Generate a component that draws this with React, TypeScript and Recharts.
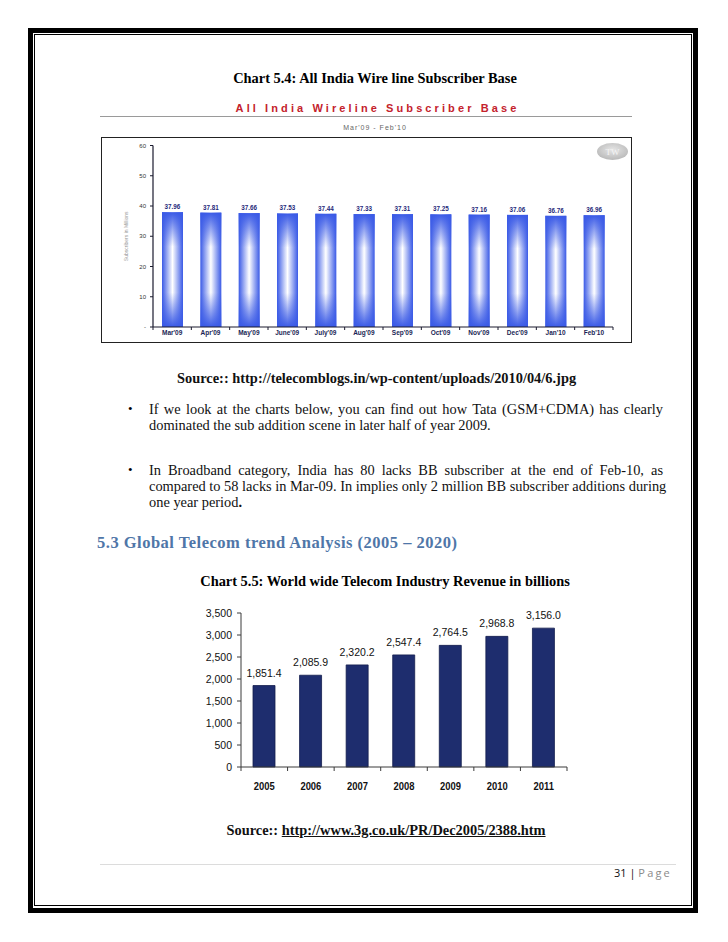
import React from "react";
import { Bar, BarChart, LabelList, XAxis, YAxis } from "recharts";

// Chart 5.4 data
const wirelineMonths = ["Mar'09", "Apr'09", "May'09", "June'09", "July'09", "Aug'09", "Sep'09", "Oct'09", "Nov'09", "Dec'09", "Jan'10", "Feb'10"];
const wirelineSubs = [37.96, 37.81, 37.66, 37.53, 37.44, 37.33, 37.31, 37.25, 37.16, 37.06, 36.76, 36.96];
const wirelineTicks = [0, 10, 20, 30, 40, 50, 60];

// Chart 5.5 data
const revenueYears = ["2005", "2006", "2007", "2008", "2009", "2010", "2011"];
const revenueValues = [1851.4, 2085.9, 2320.2, 2547.4, 2764.5, 2968.8, 3156.0];
const revenueTicks = [0, 500, 1000, 1500, 2000, 2500, 3000, 3500];

const wirelineData = wirelineMonths.map((m, i) => ({ month: m, subs: wirelineSubs[i] }));
const revenueData = revenueYears.map((y, i) => ({ year: y, revenue: revenueValues[i] }));

const serif = "'Liberation Serif', 'Times New Roman', serif";
const sans = "'Liberation Sans', Arial, sans-serif";
const wireBlue = "#3a5ae6";
const bodySize = 14.4;

// x tick that draws its label plus small tick marks at the band edges
function BandTick(props: any) {
  const { x, y, payload, index, band, count, fontSize, fill, family, weight, gap, tickLen, stroke, squeeze } = props;
  const left = x - band / 2;
  const right = x + band / 2;
  const ty = y + gap;
  return (
    <g>
      <line x1={left} x2={left} y1={y} y2={y + tickLen} stroke={stroke} strokeWidth={1} />
      {index === count - 1 && <line x1={right} x2={right} y1={y} y2={y + tickLen} stroke={stroke} strokeWidth={1} />}
      <text
        transform={`translate(${x},${ty}) scale(${squeeze || 1},1)`}
        textAnchor="middle"
        fontSize={fontSize}
        fill={fill}
        fontFamily={family}
        fontWeight={weight}
      >
        {payload.value}
      </text>
    </g>
  );
}

function GradBar(props: any) {
  const { x, y, width, height } = props;
  if (!height || height <= 0) return null;
  return (
    <g>
      <rect x={x} y={y} width={width} height={height} fill="url(#wlH)" />
      <rect x={x} y={y} width={width} height={height} fill="url(#wlV)" />
    </g>
  );
}

const abs = (left: number, top: number, extra: React.CSSProperties = {}): React.CSSProperties => ({
  position: "absolute",
  left,
  top,
  ...extra
});

function Line({ top, text, last }: { top: number; text: React.ReactNode; last?: boolean }) {
  return (
    <div
      style={abs(149, top, {
        width: 514,
        fontFamily: serif,
        fontSize: bodySize,
        lineHeight: "16px",
        color: "#111",
        textAlign: "justify",
        textAlignLast: last ? "left" : "justify",
        whiteSpace: "nowrap"
      })}
    >
      {text}
    </div>
  );
}

export default function App() {
  return (
    <div style={{ position: "absolute", left: 0, top: 0, width: 728, height: 942, background: "#fff", overflow: "hidden" }}>
      {/* page border */}
      <div style={abs(28, 28, { width: 670, height: 885, border: "5px solid #000", boxSizing: "border-box" })} />
      <div style={abs(34, 34, { width: 658, height: 872, border: "1.5px solid #000", boxSizing: "border-box" })} />

      <div style={abs(0, 70, { width: 750, textAlign: "center", fontFamily: serif, fontWeight: "bold", fontSize: bodySize, lineHeight: "16px" })}>
        Chart 5.4: All India Wire line Subscriber Base
      </div>

      {/* chart 5.4 header */}
      <div
        style={abs(100, 101, {
          width: 555,
          textAlign: "center",
          fontFamily: sans,
          fontWeight: "bold",
          fontSize: 11,
          letterSpacing: 3.1,
          color: "#c4222c",
          lineHeight: "14px"
        })}
      >
        All India Wireline Subscriber Base
      </div>
      <div style={abs(100, 116, { width: 532, height: 1, background: "#9a9a9a" })} />
      <div
        style={abs(100, 123, {
          width: 550,
          textAlign: "center",
          fontFamily: sans,
          fontSize: 7,
          letterSpacing: 1,
          color: "#666",
          lineHeight: "10px"
        })}
      >
        Mar'09 - Feb'10
      </div>
      <div style={abs(101, 137, { width: 531, height: 206, border: "1px solid #222", boxSizing: "border-box" })} />

      <div style={abs(102, 138)}>
        <BarChart width={529} height={204} data={wirelineData} margin={{ top: 7.5, right: 18, bottom: 0, left: 0 }}>
          <defs>
            <linearGradient id="wlH" x1="0" y1="0" x2="1" y2="0">
              <stop offset="0" stopColor={wireBlue} />
              <stop offset="0.5" stopColor="#ffffff" />
              <stop offset="1" stopColor={wireBlue} />
            </linearGradient>
            <linearGradient id="wlV" x1="0" y1="0" x2="0" y2="1">
              <stop offset="0" stopColor={wireBlue} stopOpacity={1} />
              <stop offset="0.3" stopColor={wireBlue} stopOpacity={0} />
              <stop offset="0.7" stopColor={wireBlue} stopOpacity={0} />
              <stop offset="1" stopColor={wireBlue} stopOpacity={1} />
            </linearGradient>
          </defs>
          <XAxis
            dataKey="month"
            height={15}
            interval={0}
            tickSize={0}
            tickMargin={0}
            axisLine={{ stroke: "#1a1a2e", strokeWidth: 1.2 }}
            tick={
              <BandTick
                band={460 / wirelineMonths.length}
                count={wirelineMonths.length}
                fontSize={6.5}
                fill="#1b1f55"
                family={sans}
                weight="bold"
                gap={8}
                tickLen={3}
                stroke="#1a1a2e"
              />
            }
          />
          <YAxis
            width={51}
            domain={[0, 60]}
            ticks={wirelineTicks}
            interval={0}
            tickSize={3}
            tickMargin={4}
            tickFormatter={(v: number) => (v === 0 ? "-" : String(v))}
            axisLine={{ stroke: "#1a1a2e", strokeWidth: 1.2 }}
            tickLine={{ stroke: "#1a1a2e" }}
            tick={{ fontSize: 6, fill: "#333", fontFamily: sans }}
            label={{ value: "Subscribers in Millions", angle: -90, position: "center", dx: -1.5, fontSize: 5, fill: "#999", fontFamily: sans }}
          />
          <Bar dataKey="subs" barSize={21} isAnimationActive={false} shape={(p: any) => <GradBar {...p} />}>
            <LabelList dataKey="subs" position="top" offset={3} fontSize={6.3} fill="#1f2a7a" fontWeight="bold" fontFamily={sans} />
          </Bar>
        </BarChart>
      </div>

      {/* watermark logo */}
      <svg style={abs(596, 142)} width={33} height={19}>
        <defs>
          <radialGradient id="twG" cx="0.5" cy="0.4" r="0.6">
            <stop offset="0" stopColor="#e6e6e6" />
            <stop offset="1" stopColor="#b9b9b9" />
          </radialGradient>
        </defs>
        <ellipse cx={16.5} cy={9.5} rx={15.5} ry={8.5} fill="url(#twG)" />
        <text x={16.5} y={13} textAnchor="middle" fontSize={9} fontFamily={serif} fill="#f4f4f4">
          TW
        </text>
      </svg>

      <div style={abs(177, 370, { fontFamily: serif, fontWeight: "bold", fontSize: bodySize, lineHeight: "16px", color: "#111", whiteSpace: "nowrap" })}>
        Source:: http://telecomblogs.in/wp-content/uploads/2010/04/6.jpg
      </div>

      <div style={abs(128, 401, { fontFamily: serif, fontSize: 13, lineHeight: "16px" })}>•</div>
      <Line top={401} text="If we look at the charts below, you can find out how Tata (GSM+CDMA) has clearly" />
      <Line top={417} last text="dominated the sub addition scene in later half of year 2009." />

      <div style={abs(128, 462, { fontFamily: serif, fontSize: 13, lineHeight: "16px" })}>•</div>
      <Line top={462} text="In Broadband category, India has 80 lacks BB subscriber at the end of Feb-10, as" />
      <Line top={478} text="compared to 58 lacks in Mar-09. In implies only 2 million BB subscriber additions during" />
      <Line
        top={494}
        last
        text={
          <>
            one year period<b>.</b>
          </>
        }
      />

      <div
        style={abs(97, 532, {
          fontFamily: serif,
          fontWeight: "bold",
          fontSize: 16.5,
          letterSpacing: 0.5,
          lineHeight: "22px",
          color: "#4f76a8",
          whiteSpace: "nowrap"
        })}
      >
        5.3 Global Telecom trend Analysis (2005 – 2020)
      </div>

      <div style={abs(0, 573, { width: 770, textAlign: "center", fontFamily: serif, fontWeight: "bold", fontSize: bodySize, lineHeight: "16px" })}>
        Chart 5.5: World wide Telecom Industry Revenue in billions
      </div>

      <div style={abs(190, 600)}>
        <BarChart width={390} height={200} data={revenueData} margin={{ top: 13, right: 13, bottom: 0, left: 0 }}>
          <XAxis
            dataKey="year"
            height={33}
            interval={0}
            tickSize={0}
            tickMargin={0}
            axisLine={{ stroke: "#3a3a3a", strokeWidth: 1 }}
            tick={
              <BandTick
                band={326 / revenueYears.length}
                count={revenueYears.length}
                fontSize={11.5}
                fill="#111"
                family={sans}
                weight="bold"
                gap={23}
                tickLen={4}
                stroke="#3a3a3a"
                squeeze={0.82}
              />
            }
          />
          <YAxis
            width={51}
            domain={[0, 3500]}
            ticks={revenueTicks}
            interval={0}
            tickSize={4}
            tickMargin={5}
            tickFormatter={(v: number) => v.toLocaleString("en-US")}
            axisLine={{ stroke: "#3a3a3a", strokeWidth: 1 }}
            tickLine={{ stroke: "#3a3a3a" }}
            tick={{ fontSize: 10.5, fill: "#111", fontFamily: sans }}
          />
          <Bar dataKey="revenue" barSize={22} fill="#1e2d6e" stroke="#131d4c" strokeWidth={0.8} isAnimationActive={false}>
            <LabelList
              dataKey="revenue"
              position="top"
              offset={9}
              fontSize={10.5}
              fill="#111"
              fontFamily={sans}
              formatter={(v: any) => Number(v).toLocaleString("en-US", { minimumFractionDigits: 1, maximumFractionDigits: 1 })}
            />
          </Bar>
        </BarChart>
      </div>

      <div style={abs(0, 822, { width: 772, textAlign: "center", fontFamily: serif, fontWeight: "bold", fontSize: bodySize, lineHeight: "16px", color: "#111" })}>
        Source:: <span style={{ textDecoration: "underline" }}>http://www.3g.co.uk/PR/Dec2005/2388.htm</span>
      </div>

      <div style={abs(100, 864, { width: 576, height: 1, background: "#dcdcdc" })} />
      <div style={abs(560, 865, { width: 112, textAlign: "right", fontFamily: "'Open Sans', sans-serif", fontSize: 11, lineHeight: "16px", color: "#111", whiteSpace: "nowrap" })}>
        31 | <span style={{ color: "#8a8a8a", letterSpacing: 2.2 }}>Page</span>
      </div>
    </div>
  );
}
